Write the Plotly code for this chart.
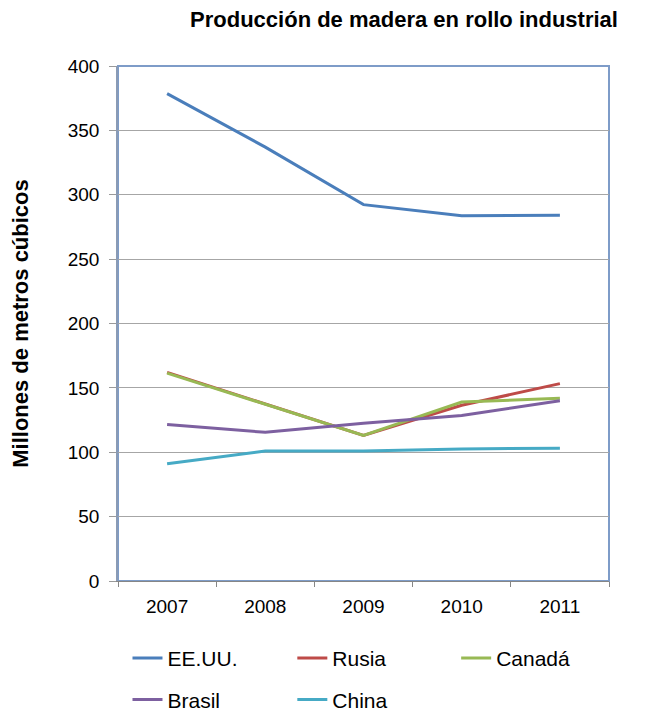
import plotly.graph_objects as go

years = ["2007", "2008", "2009", "2010", "2011"]
eeuu = [378.5, 337, 292.3, 283.7, 284.0]
rusia = [162, 137.5, 113, 136.5, 153.3]
canada = [161.5, 137, 113, 139, 142]
brasil = [121.5, 115.5, 122.5, 128.5, 140]
china = [91, 101, 101, 102.6, 103.2]

series = [
    ("EE.UU.", eeuu, "#4A7EBB", "legend"),
    ("Rusia", rusia, "#BE4B48", "legend2"),
    ("Canadá", canada, "#98B954", "legend3"),
    ("Brasil", brasil, "#7D60A0", "legend"),
    ("China", china, "#46AAC5", "legend2"),
]

FONT = "Liberation Sans, Arial, sans-serif"
OFF = 8  # page body margin offset

fig = go.Figure()
for name, vals, col, leg in series:
    fig.add_trace(go.Scatter(x=years, y=vals, name=name, mode="lines",
                             line=dict(color=col, width=3), legend=leg,
                             legendgroup=name))

L = 117.5 - OFF
T = 65.7 - OFF
R = 609 - OFF
B = 581 - OFF
PW = R - L
PH = B - T

legend_common = dict(orientation="v", xanchor="left", yanchor="top",
                     font=dict(size=21, family=FONT, color="black"),
                     tracegroupgap=11, itemclick=False, bgcolor="rgba(0,0,0,0)")

def lx(px):
    return (px - OFF - 6 - L) / PW

ly = (B - (638 - OFF)) / PH

fig.update_layout(
    width=645, height=717,
    margin=dict(l=L, r=645 - R, t=T, b=717 - B, autoexpand=False),
    paper_bgcolor="white", plot_bgcolor="white",
    font=dict(family=FONT, color="black", size=15),
    title=dict(text="<b>Producción de madera en rollo industrial</b>",
               x=(404 - OFF) / 645, xanchor="center", xref="container",
               y=1 - (19 - OFF) / 717, yanchor="middle", yref="container",
               font=dict(size=22, family=FONT, color="black")),
    showlegend=True,
    legend=dict(x=lx(133), y=ly, **legend_common),
    legend2=dict(x=lx(298), y=ly, **legend_common),
    legend3=dict(x=lx(462), y=ly, **legend_common),
)

fig.update_xaxes(
    type="category", showgrid=False, showline=True, linecolor="#868686", linewidth=1.2,
    ticks="outside", tickson="boundaries", ticklen=5, tickcolor="#868686",
    ticklabelstandoff=8,
    tickfont=dict(size=19, family=FONT, color="black"), range=[-0.5, 4.5],
)
fig.update_yaxes(
    range=[0, 400], dtick=50, showgrid=True, gridcolor="#A6A6A6", gridwidth=1.2,
    showline=True, linecolor="#8A9BB5", linewidth=1.5, zeroline=False,
    ticks="outside", ticklen=7, tickcolor="#9A9A9A", ticklabelstandoff=6,
    tickfont=dict(size=19, family=FONT, color="black"),
    title=dict(text="<b>Millones de metros cúbicos</b>",
               font=dict(size=22, family=FONT, color="black"), standoff=36),
)

fig.add_shape(type="rect", xref="paper", yref="paper", x0=0, y0=0, x1=1, y1=1,
              line=dict(color="#7E9CC8", width=2), layer="below")

fig.write_html("out.html")
